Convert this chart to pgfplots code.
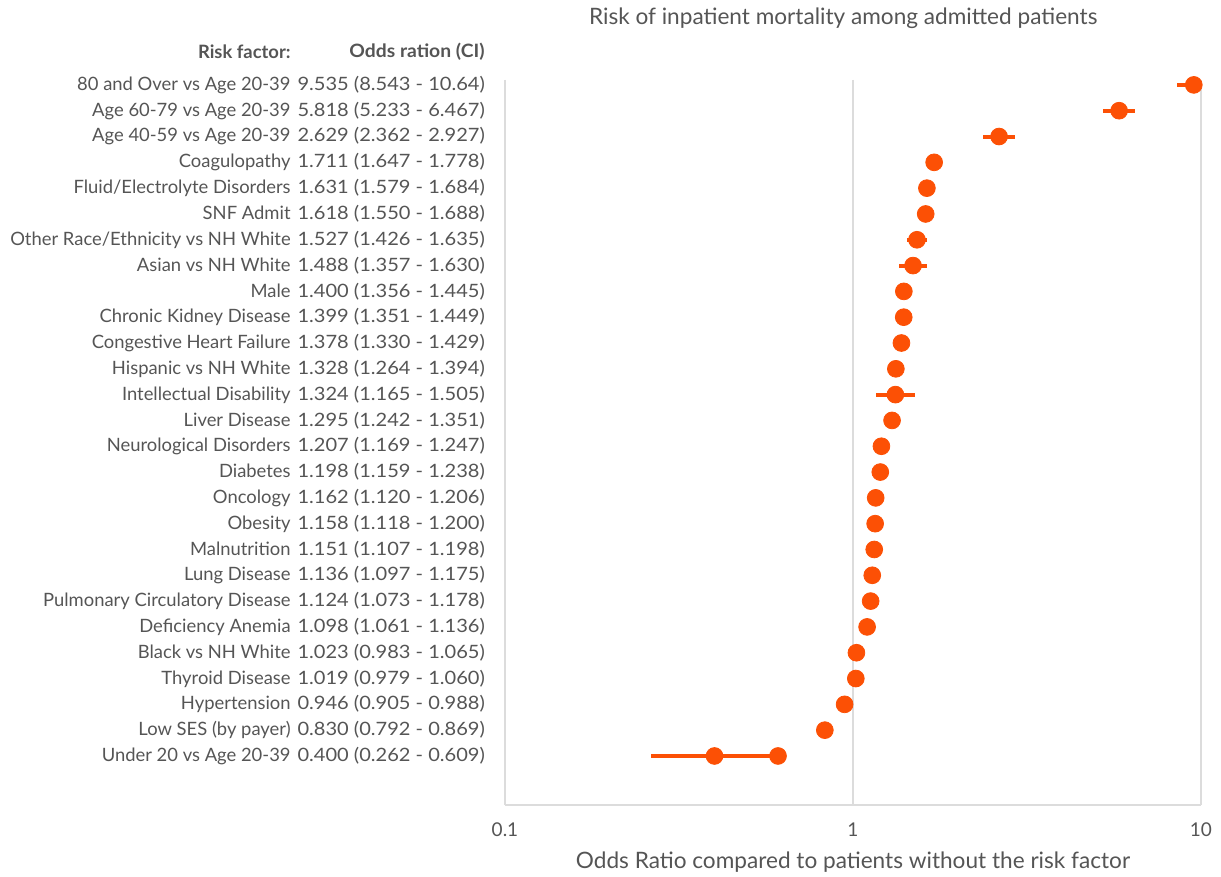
\documentclass[border=0pt]{standalone}
\usepackage{pgfplots}
\pgfplotsset{compat=1.18}
\usepackage{pgfplotstable}
\usepackage{graphicx}
\usepackage{fontspec}
\setmainfont{Lato}
\definecolor{dot}{RGB}{252,80,5}
\definecolor{txt}{RGB}{85,85,85}
\definecolor{gridc}{RGB}{220,220,220}
\newcommand{\lab}[2]{\makebox[0pt][r]{#1}\hspace{3.5pt}\makebox[95pt][l]{\scalebox{1.09}[1]{#2}}}
\pgfplotstableread[col sep=comma]{
i,or,lo,hi
1,9.535,8.543,10.64
2,5.818,5.233,6.467
3,2.629,2.362,2.927
4,1.711,1.647,1.778
5,1.631,1.579,1.684
6,1.618,1.550,1.688
7,1.527,1.426,1.635
8,1.488,1.357,1.630
9,1.400,1.356,1.445
10,1.399,1.351,1.449
11,1.378,1.330,1.429
12,1.328,1.264,1.394
13,1.324,1.165,1.505
14,1.295,1.242,1.351
15,1.207,1.169,1.247
16,1.198,1.159,1.238
17,1.162,1.120,1.206
18,1.158,1.118,1.200
19,1.151,1.107,1.198
20,1.136,1.097,1.175
21,1.124,1.073,1.178
22,1.098,1.061,1.136
23,1.023,0.983,1.065
24,1.019,0.979,1.060
25,0.946,0.905,0.988
26,0.830,0.792,0.869
27,0.400,0.262,0.609
}\data
\begin{document}
\begin{tikzpicture}
\path[use as bounding box] (-252.5pt,-36pt) rectangle (358pt,402.5pt);
\begin{axis}[
  at={(0,0)}, anchor=south west,
  scale only axis, width=348pt, height=362.5pt,
  xmode=log, log basis x=10,
  xmin=0.1, xmax=10,
  ymin=0.81, ymax=28.9, y dir=reverse,
  axis x line*=bottom, axis y line*=left,
  axis line style={-, draw=gridc, line width=0.6pt},
  xmajorgrids, grid style={draw=gridc, line width=0.6pt},
  major tick length=0pt, minor tick num=0,
  xtick={0.1,1,10}, xticklabels={0.1,1,10},
  xminorticks=false,
  xticklabel style={anchor=center, yshift=-12.5pt, inner sep=0pt, font=\fontsize{9.5}{11}\selectfont, text=txt},
  ytick={1,...,27},
  yticklabels={
    {\lab{80 and Over vs Age 20-39}{9.535 (8.543 - 10.64)}},
    {\lab{Age 60-79 vs Age 20-39}{5.818 (5.233 - 6.467)}},
    {\lab{Age 40-59 vs Age 20-39}{2.629 (2.362 - 2.927)}},
    {\lab{Coagulopathy}{1.711 (1.647 - 1.778)}},
    {\lab{Fluid/Electrolyte Disorders}{1.631 (1.579 - 1.684)}},
    {\lab{SNF Admit}{1.618 (1.550 - 1.688)}},
    {\lab{Other Race/Ethnicity vs NH White}{1.527 (1.426 - 1.635)}},
    {\lab{Asian vs NH White}{1.488 (1.357 - 1.630)}},
    {\lab{Male}{1.400 (1.356 - 1.445)}},
    {\lab{Chronic Kidney Disease}{1.399 (1.351 - 1.449)}},
    {\lab{Congestive Heart Failure}{1.378 (1.330 - 1.429)}},
    {\lab{Hispanic vs NH White}{1.328 (1.264 - 1.394)}},
    {\lab{Intellectual Disability}{1.324 (1.165 - 1.505)}},
    {\lab{Liver Disease}{1.295 (1.242 - 1.351)}},
    {\lab{Neurological Disorders}{1.207 (1.169 - 1.247)}},
    {\lab{Diabetes}{1.198 (1.159 - 1.238)}},
    {\lab{Oncology}{1.162 (1.120 - 1.206)}},
    {\lab{Obesity}{1.158 (1.118 - 1.200)}},
    {\lab{Malnutrition}{1.151 (1.107 - 1.198)}},
    {\lab{Lung Disease}{1.136 (1.097 - 1.175)}},
    {\lab{Pulmonary Circulatory Disease}{1.124 (1.073 - 1.178)}},
    {\lab{Deficiency Anemia}{1.098 (1.061 - 1.136)}},
    {\lab{Black vs NH White}{1.023 (0.983 - 1.065)}},
    {\lab{Thyroid Disease}{1.019 (0.979 - 1.060)}},
    {\lab{Hypertension}{0.946 (0.905 - 0.988)}},
    {\lab{Low SES (by payer)}{0.830 (0.792 - 0.869)}},
    {\lab{Under 20 vs Age 20-39}{0.400 (0.262 - 0.609)}}
  },
  yticklabel style={anchor=east, inner sep=0pt, xshift=-8.5pt, font=\fontsize{9.2}{11}\selectfont, text=txt},
  title={Risk of inpatient mortality among admitted patients},
  title style={at={(axis description cs:0.486,1)}, anchor=center, yshift=25pt, font=\fontsize{11.3}{13}\selectfont, text=txt},
  xlabel={Odds Ratio compared to patients without the risk factor},
  xlabel style={at={(axis description cs:0.5,0)}, anchor=center, yshift=-28.5pt, font=\fontsize{11.3}{13}\selectfont, text=txt},
  clip=true,
]
\addplot[only marks, mark=*, mark size=4.2pt, color=dot,
  error bars/.cd, x dir=both, x explicit,
  error mark=none,
  error bar style={line width=2pt, color=dot}]
  table[x=or, y=i, x error plus expr=\thisrow{hi}-\thisrow{or}, x error minus expr=\thisrow{or}-\thisrow{lo}] {\data};
\addplot[only marks, mark=*, mark size=4.2pt, color=dot] coordinates {(0.609,27)};
\end{axis}
\node[anchor=east, inner sep=0pt, font=\bfseries\fontsize{9.2}{11}\selectfont, text=txt] at ([xshift=-107pt, yshift=14pt]current axis.north west) {Risk factor:};
\node[anchor=east, inner sep=0pt, font=\bfseries\fontsize{9.2}{11}\selectfont, text=txt] at ([xshift=-10pt, yshift=14pt]current axis.north west) {\scalebox{1.05}[1]{Odds ration (CI)}};
\end{tikzpicture}
\end{document}
